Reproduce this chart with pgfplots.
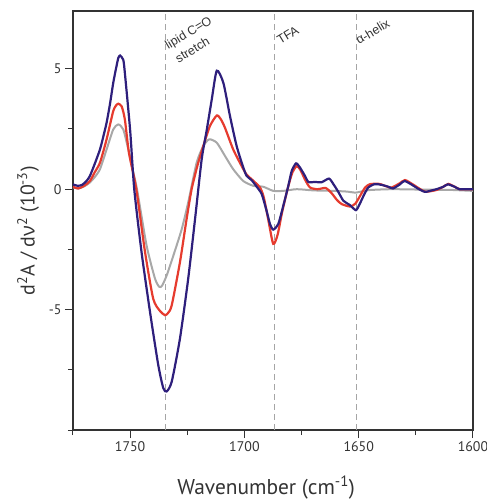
\documentclass[border=0pt]{standalone}
\usepackage{fontspec}
\setmainfont{PT Sans}
\newfontfamily\annfont{Liberation Sans}
\newfontfamily\grk{Open Sans}
\usepackage{pgfplots}
\pgfplotsset{compat=1.18}
\definecolor{cblue}{HTML}{2E1F7C}
\definecolor{cred}{HTML}{E63B2E}
\definecolor{cgray}{HTML}{A8A8A8}
\definecolor{axgray}{HTML}{333333}
\definecolor{dashgray}{HTML}{A5A5A5}
\begin{document}
\begin{tikzpicture}
\begin{axis}[
  scale only axis, width=400bp, height=419bp,
  xmin=1600, xmax=1775, ymin=-10, ymax=7.4, x dir=reverse,
  axis line style={axgray, line width=1.2bp},
  xtick={1600,1650,1700,1750}, minor xtick={1625,1675,1725,1775},
  ytick={-5,0,5}, minor ytick={-10,-7.5,-2.5,2.5},
  tick align=outside, xtick pos=bottom, ytick pos=left,
  major tick length=8bp, minor tick length=5bp,
  tick style={axgray, line width=1bp},
  ticklabel style={font=\fontsize{14}{16}\selectfont, text=axgray},
  /pgf/number format/assume math mode=true,
  /pgf/number format/1000 sep={},
  xlabel={Wavenumber (cm\textsuperscript{-1})},
  xlabel style={font=\fontsize{21.5}{25}\selectfont, text=axgray, at={(axis description cs:0.483,0)}, anchor=base, yshift=-64bp},
  ylabel={d\textsuperscript{2}A / d{\grk ν}\textsuperscript{2} (10\textsuperscript{-3})},
  ylabel style={font=\fontsize{20}{24}\selectfont, text=axgray, at={(axis description cs:-0.1125,0.475)}, anchor=center},
  clip=true,
]
% dashed marker lines
\addplot[dashgray, line width=1bp, dash pattern=on 6bp off 4bp] coordinates {(1734.5,-10) (1734.5,7.4)};
\addplot[dashgray, line width=1bp, dash pattern=on 6bp off 4bp] coordinates {(1687,-10) (1687,7.4)};
\addplot[dashgray, line width=1bp, dash pattern=on 6bp off 4bp] coordinates {(1651,-10) (1651,7.4)};
% gray
\addplot[cgray, line width=2bp, smooth, tension=0.4] coordinates {
(1775,0.08) (1772.7,0.03) (1770,0.12) (1767.6,0.28) (1765.5,0.5) (1763.2,0.83) (1760.3,1.65)
(1757.4,2.48) (1755.2,2.69) (1753,2.48) (1750.8,1.65) (1749,0.85) (1747,0) (1742.8,-2.34)
(1739.1,-3.72) (1737.2,-4.06) (1736,-4.0) (1734,-3.58) (1731.1,-2.76) (1727.4,-1.65)
(1724.6,-0.55) (1720.9,1.1) (1718,1.79) (1715.4,2.07) (1712.1,1.93) (1708.5,1.38)
(1704.9,0.83) (1700.5,0.34) (1696.1,0.14) (1691.7,0.10) (1687.4,-0.07) (1683,-0.07)
(1677.1,0.0) (1669.8,-0.05) (1661,-0.07) (1655,-0.10) (1651.2,-0.14) (1645.8,-0.04)
(1635.6,0.0) (1621,-0.02) (1610,-0.03) (1600,-0.07)};
% red
\addplot[cred, line width=2.2bp, smooth, tension=0.4] coordinates {
(1775,0.10) (1772.7,0.03) (1770,0.15) (1767.6,0.34) (1765.5,0.7) (1763.2,1.1) (1760.3,2.07)
(1757.4,3.24) (1755.9,3.51) (1755.2,3.55) (1753.7,3.44) (1752.3,2.89) (1750.5,1.5)
(1747.3,0) (1743.5,-2.6) (1739.9,-4.55) (1737,-5.05) (1734.8,-5.23) (1733.5,-5.15)
(1731.8,-4.82) (1728.2,-3.03) (1725.3,-1.24) (1723.1,0) (1720.5,1.0) (1718,1.79)
(1715.1,2.62) (1712.1,3.06) (1710.3,2.9) (1708.5,2.55) (1704.9,1.65) (1701.2,0.96)
(1699,0.6) (1696.8,0.41) (1693.2,0.07) (1691.5,-0.35) (1689.5,-1.3) (1687.4,-2.27)
(1685.5,-1.9) (1683.5,-0.95) (1681,0.05) (1679,0.7) (1677.1,0.96) (1675.5,0.8)
(1673.5,0.4) (1671.3,0.07) (1668,0.0) (1664.5,0.05) (1662,-0.15) (1659.5,-0.45)
(1657.4,-0.62) (1653.8,-0.72) (1651.5,-0.6) (1649.4,-0.28) (1647.2,0.07) (1645,0.21)
(1641,0.22) (1638,0.12) (1635.6,0.07) (1632,0.25) (1629.7,0.38) (1626,0.18)
(1621,-0.10) (1615.9,-0.03) (1613,0.1) (1610.8,0.22) (1608,0.1) (1605.7,0) (1600,0)};
% blue
\addplot[cblue, line width=2.2bp, smooth, tension=0.4] coordinates {
(1775,0.20) (1773,0.14) (1771,0.18) (1769,0.35) (1767.6,0.55) (1765.5,1.05) (1763.2,1.65)
(1761.7,2.20) (1760.3,2.76) (1758.8,3.55) (1757.4,4.41) (1756.2,5.00) (1755.2,5.44)
(1754.4,5.55) (1753,5.37) (1752.3,4.82) (1750,2.45) (1748.2,0.0) (1745,-2.62)
(1741.3,-5.10) (1737.7,-7.30) (1735.5,-8.26) (1734,-8.40) (1731.8,-7.99) (1728.2,-6.20)
(1724.6,-3.72) (1721.6,-1.24) (1718.7,1.24) (1716.5,2.45) (1714.3,3.72) (1712.1,4.92)
(1709.2,4.41) (1706.3,3.03) (1703.4,1.79) (1700.5,0.90) (1699,0.55) (1696.9,0.38)
(1694.6,0.10) (1692.4,-0.21) (1690.3,-0.90) (1688.8,-1.45) (1687.4,-1.68) (1685.2,-1.45)
(1683,-0.69) (1680.8,0.14) (1679.3,0.76) (1677.4,1.07) (1675.7,0.90) (1673.5,0.55)
(1672,0.30) (1669,0.30) (1666.2,0.29) (1663,0.44) (1661,0.20) (1659,-0.10)
(1656.7,-0.48) (1654,-0.65) (1651.2,-0.87) (1649.5,-0.60) (1647.5,-0.20) (1645.8,0.07)
(1643,0.21) (1640,0.18) (1637,0.10) (1635,0.03) (1632,0.20) (1630,0.34) (1627,0.20)
(1624,0.02) (1621,-0.11) (1618,-0.05) (1616,0.00) (1613,0.10) (1611,0.20) (1608,0.10)
(1606,0.00) (1603,0.00) (1600,0.00)};
\coordinate (a1) at (axis cs:1733.3,5.79);
\coordinate (a2) at (axis cs:1728.9,5.23);
\coordinate (a3) at (axis cs:1684.4,5.99);
\coordinate (a4) at (axis cs:1649.9,5.99);
\end{axis}
\tikzset{ann/.style={rotate=31, anchor=base west, inner sep=0pt, text=axgray, font=\annfont\fontsize{12.5}{14}\selectfont}}
\node[ann] at (a1) {lipid C=O};
\node[ann] at (a2) {stretch};
\node[ann] at (a3) {TFA};
\node[ann] at (a4) {α-helix};
\pgfresetboundingbox
\path[use as bounding box] (-73bp,-70bp) rectangle (414bp,430bp);
\end{tikzpicture}
\end{document}
